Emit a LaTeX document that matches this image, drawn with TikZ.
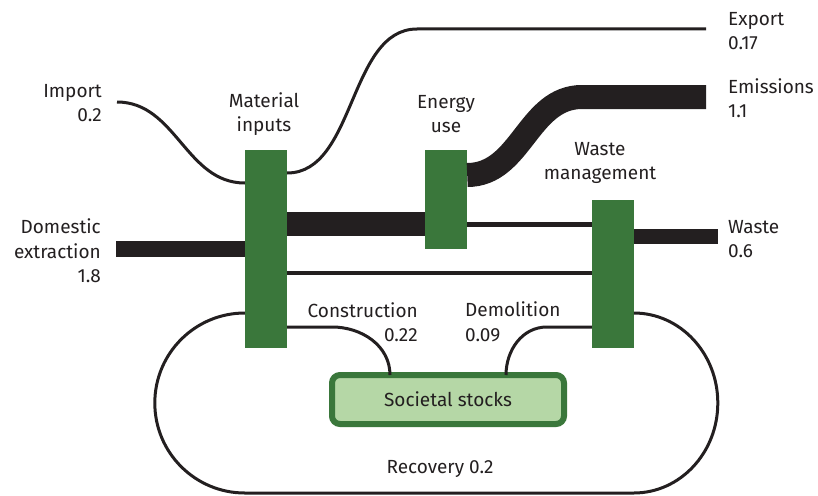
\documentclass[tikz,border=0pt]{standalone}
\usepackage{fontspec}
\setmainfont{Fira Sans}
\usepackage{tikz}
\usetikzlibrary{positioning, calc}

\definecolor{boxgreen}{HTML}{3A773B}
\definecolor{stockgreen}{HTML}{B5D7A6}
\definecolor{flowblack}{HTML}{231F20}

\begin{document}
\begin{tikzpicture}[x=1pt, y=-1pt,
        every node/.style={font=\fontsize{19}{24.5}\selectfont, text=flowblack},
        procbox/.style={fill=boxgreen, inner sep=0pt, minimum width=42pt},
        flow/.style={draw=flowblack, line width=3pt},
        lbl/.style={align=left, anchor=west, inner sep=0pt},
        lblr/.style={align=right, anchor=east, inner sep=0pt}]
        % Define dimensions
        \def\r{90pt} % radius of the recovery loop

        \useasboundingbox (0,0) rectangle (818,495);

        % Draw the process boxes
        \node[procbox, minimum height=198pt] (mat) at (266,249) {};
        \node[procbox, minimum height=99pt] (en) at (446,199.5) {};
        \node[procbox, minimum height=148pt] (wm) at (613,274) {};
        \node[draw=boxgreen, fill=stockgreen, line width=6pt, rounded corners=8pt,
              minimum width=232pt, minimum height=49pt, inner sep=0pt] (stocks) at (448,399.5) {Societal stocks};

        % Draw the box titles
        \node[align=center] (matlbl) at (264,114) {Material\\inputs};
        \node[align=center] (enlbl) at (446,114) {Energy\\use};
        \node[align=center] (wmlbl) at (600,163) {Waste\\management};

        % Draw the flow labels
        \node[lblr] (implbl) at (102,103) {Import\\0.2};
        \node[lblr] (domlbl) at (101,251) {Domestic\\extraction\\1.8};
        \node[lbl] (explbl) at (728,31) {Export\\0.17};
        \node[lbl] (emilbl) at (728,98) {Emissions\\1.1};
        \node[lbl] (waslbl) at (728,239) {Waste\\0.6};
        \node[lblr] (conlbl) at (418,322) {Construction\\0.22};
        \node[lbl] (demlbl) at (465,322) {Demolition\\0.09};
        \node (reclbl) at (440,469) {Recovery 0.2};

        % Free ends of the flows
        \coordinate (imp) at (117,102);
        \coordinate (dom) at (116,249);
        \coordinate (expbend) at (417,29);
        \coordinate (exp) at (706,29);
        \coordinate (emibend) at (582,97);
        \coordinate (emi) at (706,97);
        \coordinate (was) at (718,236.5);

        % Draw the inflows
        \draw[flow] (imp) to[out=0, in=180] ([yshift=66pt]mat.west);
        \draw[flow, line width=16pt] (dom) -- (mat.west);

        % Draw the outflows
        \draw[flow] ([yshift=76pt]mat.east) to[out=0, in=180, looseness=0.9] (expbend) -- (exp);
        \draw[flow, line width=24pt] ([yshift=24.5pt]en.east) to[out=0, in=180] (emibend) -- (emi);
        \draw[flow, line width=15pt] ([yshift=37.5pt]wm.east) -- (was);

        % Draw the flows between the boxes
        \draw[flow, line width=24pt] ([yshift=25pt]mat.east) -- ([yshift=-24.5pt]en.west);
        \draw[flow, line width=5pt] ([yshift=-24.5pt]en.east) -- ([yshift=50pt]wm.west);
        \draw[flow, line width=4pt] ([yshift=-24pt]mat.east) -- ([yshift=1pt]wm.west);

        % Draw the stock flows
        \draw[flow] ([yshift=-78pt]mat.east) -- ++(45,0) to[out=0, in=90] ([xshift=-58pt, yshift=-3pt]stocks.north);
        \draw[flow] ([yshift=-53pt]wm.west) -- ++(-45,0) to[out=180, in=90] ([xshift=58pt, yshift=-3pt]stocks.north);

        % Draw the recovery loop
        \draw[flow] ([yshift=-64pt]mat.west) arc[start angle=90, end angle=270, radius=\r]
            -- ++(389,0) arc[start angle=270, end angle=450, x radius=84pt, y radius=\r]
            -- ([yshift=-39pt]wm.east);
    \end{tikzpicture}
\end{document}
